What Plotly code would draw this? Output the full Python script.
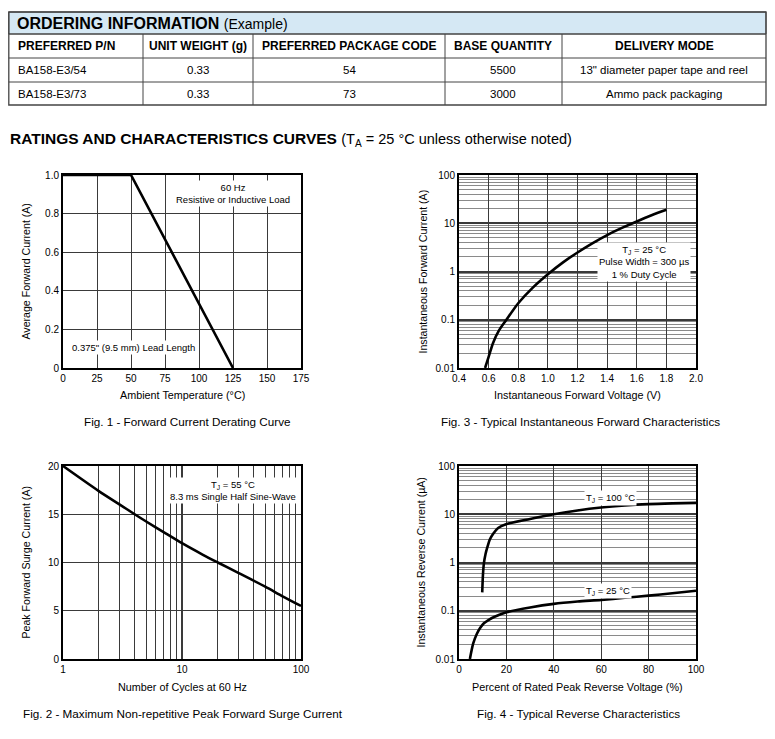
import plotly.graph_objects as go

# The page places the figure 8 px in from the top-left corner, so the figure is
# sized to fit the 775x739 window and all positions below are given in window pixels.
OFF = 8
W, H = 775 - OFF, 739 - OFF

# ---------------- data ----------------
table_title = "ORDERING INFORMATION"
table_title_note = "(Example)"
table_headers = ["PREFERRED P/N", "UNIT WEIGHT (g)", "PREFERRED PACKAGE CODE", "BASE QUANTITY", "DELIVERY MODE"]
table_pn = ["BA158-E3/54", "BA158-E3/73"]
table_weight = ["0.33", "0.33"]
table_code = ["54", "73"]
table_qty = ["5500", "3000"]
table_mode = ["13\" diameter paper tape and reel", "Ammo pack packaging"]

# Fig 1 - derating
fig1_temp = [0, 50, 125]
fig1_current = [1.0, 1.0, 0.0]

# Fig 2 - surge current
fig2_cycles = [1, 2, 3, 4, 5, 7, 10, 15, 20, 30, 50, 70, 100]
fig2_current = [20, 17.4, 16.0, 15.0, 14.25, 13.15, 12.0, 10.8, 10.0, 8.9, 7.5, 6.5, 5.5]

# Fig 3 - forward characteristics
fig3_voltage = [0.576, 0.60, 0.63, 0.67, 0.72, 0.80, 0.90, 1.00, 1.10, 1.20, 1.30, 1.40, 1.50, 1.60, 1.70, 1.80]
fig3_current = [0.01, 0.017, 0.033, 0.06, 0.1, 0.22, 0.47, 0.88, 1.53, 2.48, 3.84, 5.7, 8.0, 10.9, 14.6, 19.0]

# Fig 4 - reverse characteristics
fig4_pct_100 = [9.8, 10.1, 10.5, 11.2, 12.0, 13.0, 14.5, 16.5, 19.8, 30, 40, 50, 60, 70, 80, 90, 100]
fig4_ir_100 = [0.24, 0.55, 0.96, 1.5, 2.1, 3.0, 4.0, 5.2, 6.2, 8.0, 10.0, 12.0, 13.8, 15.2, 16.2, 16.8, 17.2]
fig4_pct_25 = [4.6, 6.0, 7.5, 8.9, 10.5, 12.4, 15, 20, 30, 40, 50, 60, 70, 80, 90, 100]
fig4_ir_25 = [0.01, 0.021, 0.033, 0.044, 0.055, 0.064, 0.075, 0.093, 0.117, 0.139, 0.155, 0.168, 0.186, 0.206, 0.23, 0.26]

fig1_xticks = [0, 25, 50, 75, 100, 125, 150, 175]
fig1_yticks = [0, 0.2, 0.4, 0.6, 0.8, 1.0]
fig1_ytext = ["0", "0.2", "0.4", "0.6", "0.8", "1.0"]
fig3_xticks = [0.4, 0.6, 0.8, 1.0, 1.2, 1.4, 1.6, 1.8, 2.0]
fig3_xtext = ["0.4", "0.6", "0.8", "1.0", "1.2", "1.4", "1.6", "1.8", "2.0"]
log_yticks = [0.01, 0.1, 1, 10, 100]
log_ytext = ["0.01", "0.1", "1", "10", "100"]
fig2_xticks = [1, 10, 100]
fig2_xtext = ["1", "10", "100"]
fig2_yticks = [0, 5, 10, 15, 20]
fig4_xticks = [0, 20, 40, 60, 80, 100]

# ---------------- helpers ----------------
def px(x):
    return (x - OFF) / W

def py(y):
    return 1 - (y - OFF) / H

FONT = "Liberation Sans, Arial, Helvetica, sans-serif"
shapes = []
annots = []

def text(x, y, s, size=11, anchor="center", bold=False, angle=0, bg=None, yanchor="middle"):
    d = dict(x=px(x), y=py(y), xref="paper", yref="paper", text=(f"<b>{s}</b>" if bold else s),
             showarrow=False, xanchor=anchor, yanchor=yanchor, textangle=angle,
             font=dict(family=FONT, size=size, color="black"))
    if bg:
        d["bgcolor"] = bg
        d["borderpad"] = 1
    annots.append(d)

def rect(x0, y0, x1, y1, fill=None, line="#333333", lw=1):
    shapes.append(dict(type="rect", xref="paper", yref="paper", x0=px(x0), x1=px(x1), y0=py(y0), y1=py(y1),
                       fillcolor=fill if fill else "rgba(0,0,0,0)", line=dict(color=line, width=lw), layer="below"))

def hline(x0, x1, y, color="#333333", lw=1):
    shapes.append(dict(type="line", xref="paper", yref="paper", x0=px(x0), x1=px(x1), y0=py(y), y1=py(y),
                       line=dict(color=color, width=lw)))

def vline(x, y0, y1, color="#333333", lw=1):
    shapes.append(dict(type="line", xref="paper", yref="paper", x0=px(x), x1=px(x), y0=py(y0), y1=py(y1),
                       line=dict(color=color, width=lw)))

# ---------------- table ----------------
TL, TR = 8.8, 766
rows_y = [12, 34, 58, 82, 105]
col_x = [TL, 143, 253, 445, 562, TR]
rect(TL, rows_y[0], TR, rows_y[1], fill="#d5e8f4", line="#444444", lw=1)
rect(TL, rows_y[0], TR, rows_y[-1], line="#444444", lw=1.3)
for yy in rows_y[1:-1]:
    hline(TL, TR, yy, color="#444444")
for xx in col_x[1:-1]:
    vline(xx, rows_y[1], rows_y[-1], color="#444444")

annots.append(dict(x=px(15), y=py(23.5), xref="paper", yref="paper", showarrow=False, xanchor="left", yanchor="middle",
                   text=f"<b>{table_title}</b> <span style='font-size:14px'>{table_title_note}</span>",
                   font=dict(family=FONT, size=16, color="black")))

for i, h in enumerate(table_headers):
    yc = (rows_y[1] + rows_y[2]) / 2
    if i == 0:
        text(16, yc, h, size=12, anchor="left", bold=True)
    else:
        text((col_x[i] + col_x[i + 1]) / 2, yc, h, size=12, bold=True)

body_cols = [table_pn, table_weight, table_code, table_qty, table_mode]
for r in range(2):
    yc = (rows_y[2 + r] + rows_y[3 + r]) / 2
    for i, col in enumerate(body_cols):
        if i == 0:
            text(16, yc, col[r], size=11.5, anchor="left")
        else:
            text((col_x[i] + col_x[i + 1]) / 2, yc, col[r], size=11.5)

annots.append(dict(x=px(8), y=py(140), xref="paper", yref="paper", showarrow=False, xanchor="left", yanchor="middle",
                   text="<b>RATINGS AND CHARACTERISTICS CURVES</b> <span style='font-size:14.5px'>(T<sub>A</sub> = 25 °C unless otherwise noted)</span>",
                   font=dict(family=FONT, size=15.5, color="black")))

# ---------------- plots ----------------
fig = go.Figure()

L1, R1 = 63, 301
L2, R2 = 459, 696
T1, B1 = 175, 368
T2, B2 = 466, 659

GRID = "#3a3a3a"
MINOR = "#8a8a8a"
tickfont = dict(family=FONT, size=10, color="black")

def lin_axis(dom, rng, tickvals, ticktext=None, anchor=None):
    d = dict(domain=dom, range=rng, tickvals=tickvals, showgrid=True, gridcolor=GRID, gridwidth=1.3,
             zeroline=False, showline=True, linecolor="black", linewidth=2, mirror=True, automargin=False,
             ticks="", tickfont=tickfont, fixedrange=True, anchor=anchor)
    if ticktext is not None:
        d["ticktext"] = ticktext
    return d

def log_axis(dom, rng, tickvals, ticktext, anchor, minor_color=MINOR, minor_w=1):
    return dict(domain=dom, type="log", range=rng, tickvals=tickvals, ticktext=ticktext, showgrid=True,
                gridcolor=GRID, gridwidth=1.5, zeroline=False, showline=True, linecolor="black", linewidth=2,
                mirror=True, automargin=False, ticks="", tickfont=tickfont, fixedrange=True, anchor=anchor,
                minor=dict(dtick="D1", showgrid=True, gridcolor=minor_color, gridwidth=minor_w, ticks=""))

def curve(x, y, xa, ya):
    fig.add_trace(go.Scatter(x=x, y=y, mode="lines", line=dict(color="black", width=2.6, shape="spline", smoothing=0.8),
                             xaxis=xa, yaxis=ya, showlegend=False, hoverinfo="skip"))

fig.add_trace(go.Scatter(x=fig1_temp, y=fig1_current, mode="lines", line=dict(color="black", width=2.6),
                         xaxis="x", yaxis="y", showlegend=False, hoverinfo="skip"))
curve(fig3_voltage, fig3_current, "x2", "y2")
curve(fig2_cycles, fig2_current, "x3", "y3")
curve(fig4_pct_100, fig4_ir_100, "x4", "y4")
curve(fig4_pct_25, fig4_ir_25, "x4", "y4")

layout = dict(
    width=W, height=H, autosize=False, margin=dict(l=0, r=0, t=0, b=0, pad=0, autoexpand=False),
    paper_bgcolor="white", plot_bgcolor="white",
    xaxis=lin_axis([px(L1), px(R1)], [0, 175], fig1_xticks, anchor="y"),
    yaxis=lin_axis([py(B1), py(T1)], [0, 1.0], fig1_yticks, fig1_ytext, anchor="x"),
    xaxis2=lin_axis([px(L2), px(R2)], [0.4, 2.0], fig3_xticks, fig3_xtext, anchor="y2"),
    yaxis2=log_axis([py(B1), py(T1)], [-2, 2], log_yticks, log_ytext, "x2"),
    xaxis3=log_axis([px(L1), px(R1)], [0, 2], fig2_xticks, fig2_xtext, "y3", minor_color=GRID, minor_w=1.1),
    yaxis3=lin_axis([py(B2), py(T2)], [0, 20], fig2_yticks, anchor="x3"),
    xaxis4=lin_axis([px(L2), px(R2)], [0, 100], fig4_xticks, anchor="y4"),
    yaxis4=log_axis([py(B2), py(T2)], [-2, 2], log_yticks, log_ytext, "x4"),
)

text((L1 + R1) / 2, 395, "Ambient Temperature (°C)", size=10.8)
text(25, (T1 + B1) / 2, "Average Forward Current (A)", size=10.6, angle=-90)
text(187, 421, "Fig. 1 - Forward Current Derating Curve", size=11.7)

text((L2 + R2) / 2, 395, "Instantaneous Forward Voltage (V)", size=10.8)
text(422, (T1 + B1) / 2, "Instantaneous Forward Current (A)", size=10.6, angle=-90)
text(580, 421, "Fig. 3 - Typical Instantaneous Forward Characteristics", size=11.7)

text((L1 + R1) / 2, 687, "Number of Cycles at 60 Hz", size=10.8)
text(25, (T2 + B2) / 2, "Peak Forward Surge Current (A)", size=10.6, angle=-90)
text(183, 713, "Fig. 2 - Maximum Non-repetitive Peak Forward Surge Current", size=11.7)

text((L2 + R2) / 2, 687, "Percent of Rated Peak Reverse Voltage (%)", size=10.8)
text(420, (T2 + B2) / 2, "Instantaneous Reverse Current (µA)", size=10.6, angle=-90)
text(578, 713, "Fig. 4 - Typical Reverse Characteristics", size=11.7)

text(233, 194, "60 Hz<br>Resistive or Inductive Load", size=9.5, bg="white")
text(70, 348, "0.375\" (9.5 mm) Lead Length", size=9.5, anchor="left", bg="white")
text(644, 262, "T<sub>J</sub> = 25 °C<br>Pulse Width = 300 µs<br>1 % Duty Cycle", size=9.5, bg="white")
text(233, 490, "T<sub>J</sub> = 55 °C<br>8.3 ms Single Half Sine-Wave", size=9.5, bg="white")
text(610, 498, "T<sub>J</sub> = 100 °C", size=9.5, bg="white")
text(608, 591, "T<sub>J</sub> = 25 °C", size=9.5, bg="white")

layout["shapes"] = shapes
layout["annotations"] = annots
fig.update_layout(**layout)
fig.write_html("out.html")
